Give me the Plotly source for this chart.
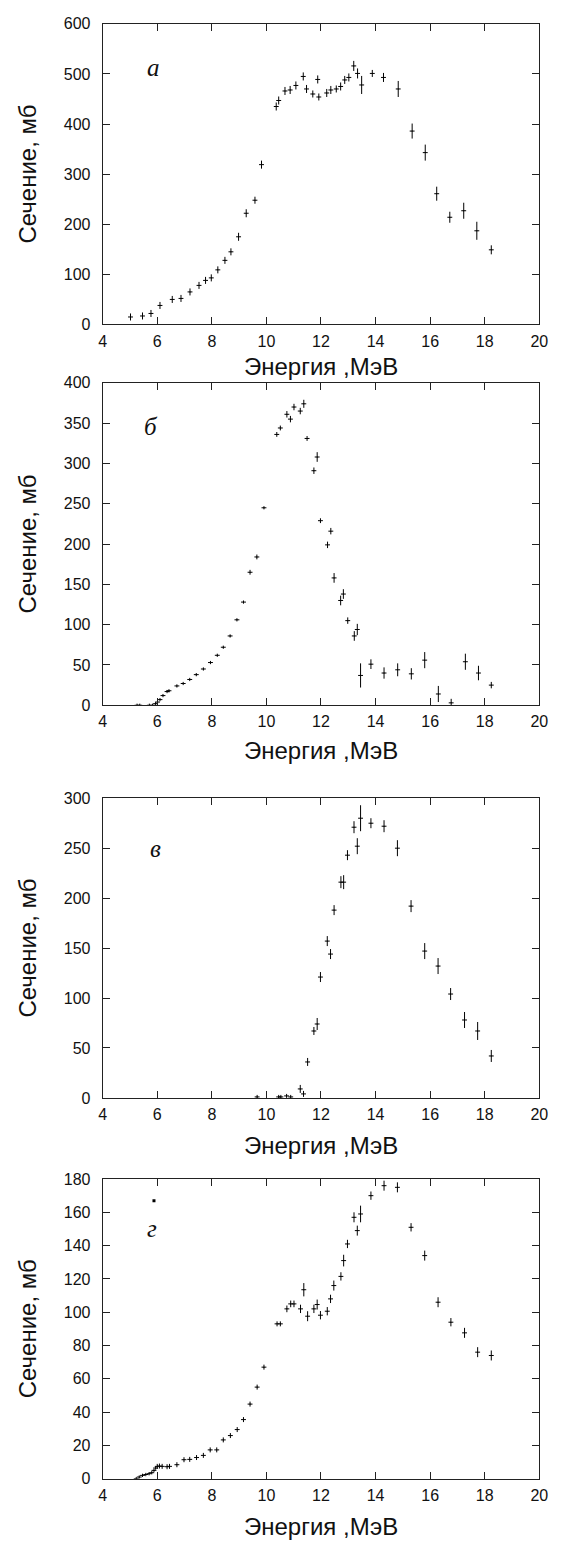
import plotly.graph_objects as go

W, H = 562, 1550

# ---------------- data: panel а ----------------
energy_a = [5.02, 5.46, 5.77, 6.10, 6.55, 6.87, 7.20, 7.53, 7.77, 7.98, 8.22, 8.48, 8.70, 8.98,
            9.26, 9.58, 9.82, 10.36, 10.45, 10.68, 10.87, 11.08, 11.35, 11.47, 11.70, 11.88,
            11.92, 12.21, 12.36, 12.56, 12.72, 12.87, 13.02, 13.20, 13.34, 13.49, 13.88, 14.29,
            14.83, 15.34, 15.82, 16.24, 16.72, 17.23, 17.71, 18.24]
sigma_a = [15, 17, 22, 38, 50, 52, 65, 78, 88, 93, 109, 128, 145, 175,
           222, 248, 319, 435, 447, 466, 468, 477, 495, 470, 460, 489,
           454, 462, 468, 470, 475, 488, 493, 516, 501, 478, 501, 493,
           470, 386, 343, 261, 214, 227, 187, 149]
err_a = [7, 7, 7, 7, 7, 7, 7, 7, 7, 7, 7, 7, 7, 8,
         8, 7, 8, 8, 8, 8, 8, 8, 8, 8, 7, 8,
         7, 8, 8, 7, 8, 8, 8, 10, 10, 18, 7, 9,
         16, 15, 16, 14, 11, 16, 18, 9]

# ---------------- data: panel б ----------------
energy_b = [5.26, 5.36, 5.71, 5.83, 5.94, 6.01, 6.10, 6.21, 6.36, 6.43, 6.72, 6.95, 7.19, 7.43,
            7.69, 7.95, 8.20, 8.42, 8.67, 8.92, 9.16, 9.40, 9.65, 9.91, 10.38, 10.51, 10.75,
            10.88, 11.01, 11.24, 11.37, 11.49, 11.74, 11.86, 11.98, 12.24, 12.36, 12.48, 12.72,
            12.82, 12.98, 13.22, 13.33, 13.45, 13.83, 14.31, 14.81, 15.31, 15.80, 16.30, 16.77,
            17.29, 17.77, 18.24]
sigma_b = [0, 0, 0, 0, 2, 4, 7, 12, 17, 18, 24, 27, 32, 38,
           45, 53, 62, 72, 86, 106, 128, 165, 184, 245, 336, 344, 361,
           355, 370, 365, 374, 331, 291, 308, 229, 199, 216, 158, 130,
           138, 105, 86, 94, 37, 51, 40, 44, 39, 56, 14, 3,
           54, 40, 25]
err_b = [2, 2, 2, 2, 2, 2, 2, 2, 2, 2, 2, 2, 2, 2,
         2, 2, 2, 2, 2, 2, 2, 3, 3, 2, 3, 3, 4,
         4, 4, 4, 5, 3, 4, 6, 3, 4, 4, 6, 6,
         6, 4, 6, 7, 15, 6, 7, 8, 7, 10, 10, 5,
         10, 9, 4]

# ---------------- data: panel в ----------------
energy_c = [9.66, 10.45, 10.53, 10.74, 10.89, 11.24, 11.36, 11.51, 11.74, 11.86, 11.98, 12.23,
            12.35, 12.48, 12.73, 12.83, 12.97, 13.21, 13.33, 13.45, 13.83, 14.31, 14.80, 15.30,
            15.80, 16.29, 16.75, 17.26, 17.74, 18.24]
sigma_c = [1, 1, 1, 2, 1, 9, 4, 36, 67, 74, 121, 157,
           144, 188, 216, 216, 243, 271, 252, 280, 275, 272, 250, 192,
           147, 132, 104, 78, 67, 42]
err_c = [2, 2, 2, 2, 2, 4, 3, 4, 4, 6, 5, 5,
         5, 5, 6, 7, 5, 6, 8, 13, 5, 6, 8, 6,
         8, 8, 6, 8, 9, 6]

# ---------------- data: panel г ----------------
energy_d = [5.23, 5.34, 5.46, 5.58, 5.70, 5.80, 5.88, 5.94, 6.00, 6.08, 6.18, 6.36, 6.45, 6.72,
            6.98, 7.19, 7.44, 7.69, 7.94, 8.18, 8.42, 8.68, 8.93, 9.16, 9.40, 9.66, 9.91,
            10.39, 10.51, 10.75, 10.89, 11.01, 11.25, 11.37, 11.51, 11.74, 11.86, 11.98, 12.23,
            12.35, 12.47, 12.73, 12.83, 12.97, 13.21, 13.33, 13.45, 13.83, 14.31, 14.80, 15.30,
            15.80, 16.29, 16.76, 17.26, 17.74, 18.24]
sigma_d = [0, 1, 2, 2.5, 3, 3.6, 5, 6.4, 7.4, 7.6, 7.4, 7.2, 7.4, 8.4,
           11.4, 11.6, 12.7, 14, 17.3, 17.3, 23.3, 25.9, 29.5, 35.5, 44.8, 55, 67,
           93, 93, 102, 105, 105, 102, 113.5, 97.6, 102, 104.6, 98.2, 100.6,
           108, 116, 121.5, 131, 141, 157, 149, 159, 170, 176, 175, 151,
           134, 106, 94, 87.6, 76, 74]
err_d = [1, 1, 1, 1, 1, 1, 1, 1, 1.5, 1.5, 1.5, 1.5, 1.5, 1.5,
         1.5, 1.5, 1.5, 1.5, 1.5, 1.5, 1.5, 1.5, 1.5, 1.5, 1.5, 1.5, 1.5,
         1.5, 1.5, 2, 2, 2, 2.5, 4, 3, 2.5, 3, 2.5, 2.5,
         2.5, 3, 2.5, 3.5, 2.5, 3, 3, 5, 2.5, 3, 3, 2.5,
         3, 3, 2.5, 3, 3, 3]
stray_x = [5.88]
stray_y = [167]

panel_labels = ["а", "б", "в", "г"]
y_ranges = [[0, 600], [0, 400], [0, 300], [0, 180]]
y_dticks = [100, 50, 50, 20]
x_ticks = [4, 6, 8, 10, 12, 14, 16, 18, 20]
x_title = "Энергия ,МэВ"
y_title = "Сечение, мб"

series = [(energy_a, sigma_a, err_a), (energy_b, sigma_b, err_b),
          (energy_c, sigma_c, err_c), (energy_d, sigma_d, err_d)]

# pixel layout (top, bottom) of each plot box
boxes = [(16, 320), (379, 705), (799, 1102), (1184, 1487)]
x_left, x_right = 101, 548
xtitle_y = [362, 751, 1150, 1535]
label_pos = [(153, 60), (150, 423), (155, 850), (152, 1234)]

def px(xp):
    return xp / W

def py(yp):
    return 1 - yp / H

fig = go.Figure()
axis_color = "#222222"
tick_font = dict(family="Liberation Sans, Arial, sans-serif", size=16, color="#111111")
title_font = dict(family="Liberation Sans, Arial, sans-serif", size=24, color="#111111")

for i, (xs, ys, es) in enumerate(series):
    n = "" if i == 0 else str(i + 1)
    fig.add_trace(go.Scatter(
        x=xs, y=ys, mode="markers",
        marker=dict(size=1, color="black"),
        error_y=dict(type="data", array=es, visible=True, color="black", thickness=1, width=0),
        error_x=dict(type="constant", value=0.09, visible=True, color="black", thickness=1, width=0),
        xaxis="x" + n, yaxis="y" + n, showlegend=False, hoverinfo="x+y"))
    top, bot = boxes[i]
    fig.update_layout(**{
        "xaxis" + n: dict(
            domain=[px(x_left), px(x_right)], anchor="y" + n, range=[4, 20],
            tickvals=x_ticks, ticks="inside", ticklen=7, tickcolor=axis_color,
            showline=True, linecolor=axis_color, linewidth=1, mirror="ticks",
            showgrid=False, zeroline=False, tickfont=tick_font, ticklabelstandoff=2),
        "yaxis" + n: dict(
            domain=[py(bot), py(top)], anchor="x" + n, range=y_ranges[i],
            dtick=y_dticks[i], tick0=0, ticks="inside", ticklen=7, tickcolor=axis_color,
            showline=True, linecolor=axis_color, linewidth=1, mirror="ticks",
            showgrid=False, zeroline=False, tickfont=tick_font, ticklabelstandoff=8),
    })
    fig.add_annotation(text=x_title, xref="paper", yref="paper",
                       x=px((x_left + x_right) / 2), y=py(xtitle_y[i]),
                       xanchor="center", yanchor="middle", showarrow=False, font=title_font)
    fig.add_annotation(text=y_title, xref="paper", yref="paper", textangle=-90,
                       x=px(24), y=py((top + bot) / 2),
                       xanchor="center", yanchor="middle", showarrow=False, font=title_font)
    lx, ly = label_pos[i]
    fig.add_annotation(text="<i>" + panel_labels[i] + "</i>", xref="paper", yref="paper",
                       x=px(lx), y=py(ly), xanchor="center", yanchor="middle", showarrow=False,
                       font=dict(family="Liberation Serif, Times New Roman, serif", size=25,
                                 color="#111111"))

fig.add_trace(go.Scatter(x=stray_x, y=stray_y, mode="markers",
                         marker=dict(size=3, color="black", symbol="square"),
                         xaxis="x4", yaxis="y4", showlegend=False, hoverinfo="skip"))

fig.update_layout(width=W, height=H, margin=dict(l=0, r=0, t=0, b=0),
                  paper_bgcolor="white", plot_bgcolor="white", showlegend=False)

fig.write_html("out.html", config={"displayModeBar": False},
               post_script="document.body.style.margin='0';"
                           "document.documentElement.style.overflow='hidden';")
